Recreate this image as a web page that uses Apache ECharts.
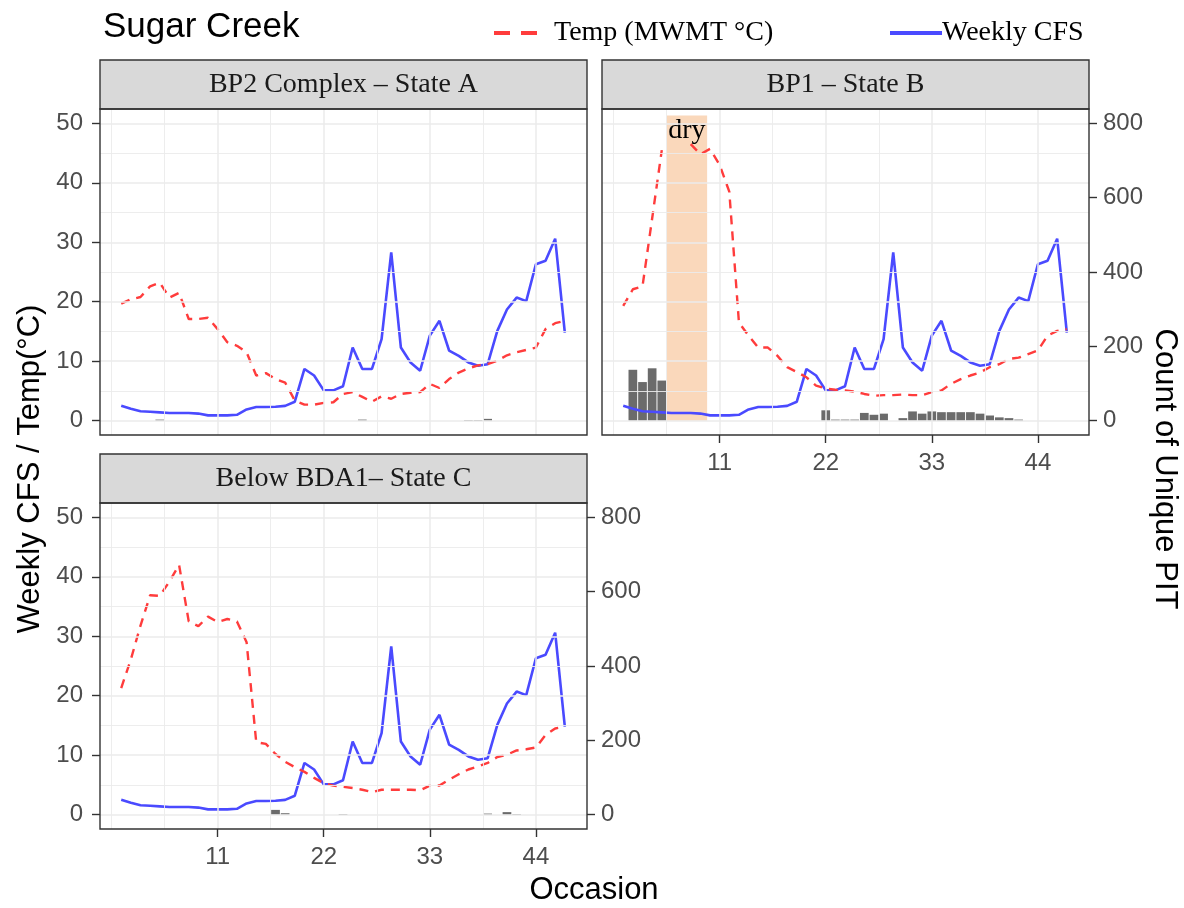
<!DOCTYPE html>
<html><head><meta charset="utf-8">
<script src="https://cdn.jsdelivr.net/npm/echarts@6/dist/echarts.min.js"></script>
<style>html,body{margin:0;padding:0;background:#fff}#c{width:1184px;height:908px}</style>
</head><body><div id="c"></div>
<script>
// ---------------- data ----------------
const occasion = [1,2,3,4,5,6,7,8,9,10,11,12,13,14,15,16,17,18,19,20,21,22,23,24,25,26,27,28,29,30,31,32,33,34,35,36,37,38,39,40,41,42,43,44,45,46,47];
const weeklyCFS = [2.5,2.0,1.6,1.5,1.4,1.3,1.3,1.3,1.2,0.9,0.9,0.9,1.0,1.9,2.3,2.3,2.35,2.5,3.2,8.7,7.6,5.1,5.1,5.8,12.3,8.7,8.7,13.7,28.3,12.3,9.8,8.4,14.3,16.8,11.8,10.9,9.8,9.25,9.5,15.1,18.7,20.7,20.1,26.3,26.9,30.6,14.8];
const tempA = [19.7,20.4,20.8,22.6,23.2,20.7,21.5,17.1,17.1,17.3,15.4,13.2,12.6,11.5,7.6,8.0,7.0,6.4,3.4,2.7,2.7,3.0,3.1,4.5,4.8,4.0,3.2,4.1,3.7,4.5,4.7,4.8,6.2,5.5,7.0,8.1,8.8,9.3,9.5,10.1,11.0,11.5,11.9,12.3,15.4,16.4,16.8];
const tempB = [19.3,22.1,22.6,34.0,45.5,null,null,46.5,44.8,45.7,43.0,38.5,16.5,14.3,12.3,12.3,10.9,9.0,8.2,7.3,5.9,5.4,5.2,5.1,4.9,4.5,4.2,4.3,4.3,4.4,4.3,4.3,4.8,5.1,6.2,7.0,7.6,8.1,9.0,9.5,10.4,10.6,11.2,11.8,14.3,15.1,15.4];
const tempC = [21.3,26.1,31.8,36.9,36.8,39.2,42.0,32.5,31.7,33.3,32.4,32.9,32.5,29.0,12.2,11.9,10.2,8.9,8.0,7.2,6.2,5.3,4.9,4.7,4.5,4.2,3.8,4.2,4.2,4.2,4.2,4.1,4.9,4.9,5.9,6.8,7.6,8.1,8.7,9.7,10.1,10.8,11.0,11.3,13.4,14.5,14.8];
const pitA_occ = [5,26,37,38,39];
const pitA_count = [3,3,2,2,5];
const pitB_occ = [2,3,4,5,22,23,24,25,26,27,28,30,31,32,33,34,35,36,37,38,39,40,41,42];
const pitB_count = [137,104,141,108,28,3,3,3,21,16,19,7,25,19,25,23,23,23,23,19,14,9,7,3];
const pitC_occ = [17,18,24,39,41,42];
const pitC_count = [13,4,2,3,7,2];
const panelTitles = ['BP2 Complex – State A', 'BP1 – State B', 'Below BDA1– State C'];
const xTicks = [11,22,33,44];
const xGridMajor = [11,22,33,44];
const xGridMinor = [0,5.5,16.5,27.5,38.5];
const yTicks = [0,10,20,30,40,50];
const yGridMajor = [0,10,20,30,40,50];
const yGridMinor = [5,15,25,35,45];
const countTicks = [0,200,400,600,800];
const dryStart = 5.5, dryEnd = 9.7, dryTop = 51.3, dryLabel = 'dry';
const chartTitle = 'Sugar Creek';
const tempName = 'Temp (MWMT °C)';
const cfsName = 'Weekly CFS';
const yTitle = 'Weekly CFS / Temp(°C)';
const y2Title = 'Count of Unique PIT';
const xTitle = 'Occasion';

// ---------------- layout ----------------
const W = 487, H = 326;
const panels = [{left:100, top:109}, {left:602, top:109}, {left:100, top:503}];
const stripH = 49;
const temps = [tempA, tempB, tempC];
const pits = [[pitA_occ, pitA_count], [pitB_occ, pitB_count], [pitC_occ, pitC_count]];
const sans = 'Liberation Sans', serif = 'Liberation Serif';
const tickStyle = {color:'#333', width:1.4};
const lblStyle = {fontSize:24, color:'#4d4d4d', fontFamily:sans};
const hiddenLine = {show:false, onZero:false};

const grid = [], xAxis = [], yAxis = [], series = [], graphic = [];
panels.forEach((p, i) => {
  grid.push({left:p.left, top:p.top, width:W, height:H, show:true, backgroundColor:'#fff', borderWidth:0});
  xAxis.push({gridIndex:i, type:'value', position:'bottom', min:-1.2, max:49.3, splitLine:{show:false},
    axisLine:hiddenLine,
    axisTick:{show:i>0, customValues:xTicks, length:8, lineStyle:tickStyle},
    axisLabel:Object.assign({show:i>0, customValues:xTicks, margin:16}, lblStyle)});
  yAxis.push({gridIndex:i, type:'value', min:-2.4, max:52.4, position:'left', splitLine:{show:false},
    axisLine:hiddenLine,
    axisTick:{show:i!==1, customValues:yTicks, length:8, lineStyle:tickStyle},
    axisLabel:Object.assign({show:i!==1, customValues:yTicks, margin:17}, lblStyle)});
  yAxis.push({gridIndex:i, type:'value', min:-38.4, max:838.4, position:'right', splitLine:{show:false},
    axisLine:hiddenLine,
    axisTick:{show:i>0, customValues:countTicks, length:8, lineStyle:tickStyle},
    axisLabel:Object.assign({show:i>0, customValues:countTicks, margin:14}, lblStyle)});
  const mk = (v, key, w) => ({[key]:v, lineStyle:{color:'#ebebeb', width:w, type:'solid'}});
  series.push({type:'line', xAxisIndex:i, yAxisIndex:2*i, data:[], z:1, silent:true,
    markLine:{silent:true, symbol:['none','none'], animation:false, label:{show:false},
      emphasis:{disabled:true},
      data:[].concat(xGridMinor.map(v=>mk(v,'xAxis',0.9)), xGridMajor.map(v=>mk(v,'xAxis',1.5)),
                     yGridMinor.map(v=>mk(v,'yAxis',0.9)), yGridMajor.map(v=>mk(v,'yAxis',1.5)))}});
  series.push({type:'bar', xAxisIndex:i, yAxisIndex:2*i+1, barWidth:8.7, z:2, silent:true,
    itemStyle:{color:'#6b6b6b'},
    data:pits[i][0].map((x,k)=>[x, pits[i][1][k]])});
  series.push({type:'line', name:cfsName, xAxisIndex:i, yAxisIndex:2*i, symbol:'none', z:3, silent:true,
    lineStyle:{color:'#4a4aff', width:2.6}, itemStyle:{color:'#4a4aff'},
    data:occasion.map((x,k)=>[x, weeklyCFS[k]])});
  series.push({type:'line', name:tempName, xAxisIndex:i, yAxisIndex:2*i, symbol:'none', z:4, silent:true,
    lineStyle:{color:'#ff3c3c', width:2.4, type:[9,7]}, itemStyle:{color:'#ff3c3c'},
    data:occasion.map((x,k)=>[x, temps[i][k]])});
  // strip
  graphic.push({type:'rect', shape:{x:p.left, y:p.top-stripH, width:W, height:stripH}, z:50,
    style:{fill:'#d9d9d9', stroke:'#333', lineWidth:1.4}});
  graphic.push({type:'text', x:p.left+W/2, y:p.top-stripH/2, z:51,
    style:{text:panelTitles[i], fill:'#1a1a1a', font:'28px "'+serif+'"', align:'center', verticalAlign:'middle'}});
  // panel border
  graphic.push({type:'rect', shape:{x:p.left, y:p.top, width:W, height:H}, z:60, silent:true,
    style:{fill:'none', stroke:'#333', lineWidth:1.4}});
});
// dry band on panel B
series.push({type:'line', xAxisIndex:1, yAxisIndex:2, data:[], z:10, silent:true,
  markArea:{silent:true, itemStyle:{color:'rgba(245,178,120,0.5)'},
    label:{show:true, position:'insideTop', distance:1, formatter:dryLabel, color:'#000', fontFamily:serif, fontSize:28},
    data:[[{xAxis:dryStart, yAxis:0}, {xAxis:dryEnd, yAxis:dryTop}]]}});

graphic.push({type:'text', x:30, y:469, rotation:Math.PI/2, z:70,
  style:{text:yTitle, fill:'#000', font:'31px "'+sans+'"', align:'center', verticalAlign:'middle'}});
graphic.push({type:'text', x:1165, y:469, rotation:-Math.PI/2, z:70,
  style:{text:y2Title, fill:'#000', font:'31px "'+sans+'"', align:'center', verticalAlign:'middle'}});
graphic.push({type:'text', x:594, y:890, z:70,
  style:{text:xTitle, fill:'#000', font:'31px "'+sans+'"', align:'center', verticalAlign:'middle'}});

const option = {
  animation:false,
  backgroundColor:'#fff',
  title:{text:chartTitle, left:98, top:5, textStyle:{fontFamily:sans, fontSize:35, fontWeight:'normal', color:'#000'}},
  legend:[
    {data:[{name:tempName, icon:'path://M0,0H16V4H0Z M27,0H43V4H27Z'}], left:489, top:14, itemWidth:43, itemHeight:4, selectedMode:false,
     textStyle:{fontFamily:serif, fontSize:28, color:'#000', padding:[0,0,0,12]}},
    {data:[{name:cfsName, icon:'rect'}], left:885, top:14, itemWidth:52, itemHeight:4, selectedMode:false,
     textStyle:{fontFamily:serif, fontSize:28, color:'#000', padding:[0,0,0,-5]}}
  ],
  grid, xAxis, yAxis, series, graphic
};
const chart = echarts.init(document.getElementById('c'), null, {renderer:'canvas'});
chart.setOption(option);
</script></body></html>
